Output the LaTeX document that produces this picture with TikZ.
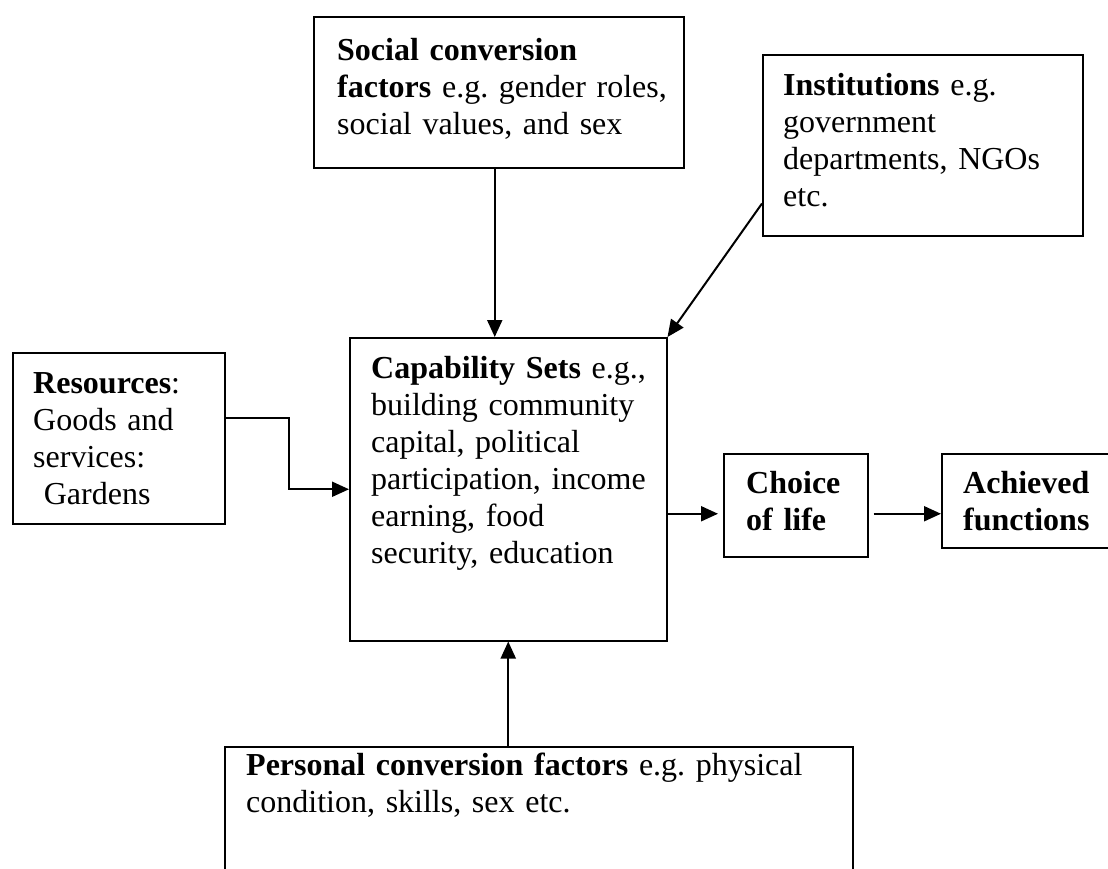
\documentclass[tikz,border=0pt]{standalone}
\usepackage{fontspec}
\setmainfont{Liberation Serif}
\usetikzlibrary{arrows.meta}
\frenchspacing

\begin{document}
\begin{tikzpicture}[x=1pt, y=-1pt,
	factorbox/.style={draw, line width=1.5pt, anchor=north west, inner sep=0pt},
	factortext/.style={anchor=base west, inner sep=0pt, text width=640pt, align=left, font=\fontsize{32}{37}\selectfont},
	link/.style={line width=2pt, -{Triangle[length=17pt, width=15pt]}}]
\useasboundingbox (0,0) rectangle (1108,868);

\node[factorbox, minimum width=370pt, minimum height=151pt] (social) at (313,16) {};
\node[factorbox, minimum width=320pt, minimum height=181pt] (inst) at (762,54) {};
\node[factorbox, minimum width=212pt, minimum height=171pt] (res) at (12,352) {};
\node[factorbox, minimum width=317pt, minimum height=303pt] (cap) at (349,337) {};
\node[factorbox, minimum width=144pt, minimum height=103pt] (choice) at (723,453) {};
\node[factorbox, minimum width=200pt, minimum height=94pt] (achieved) at (941,453) {};
\node[factorbox, minimum width=628pt, minimum height=160pt] (personal) at (224,746) {};

\node[factortext] (socialtxt) at (337,60) {\textbf{Social conversion}\\ \textbf{factors} e.g. gender roles,\\ social values, and sex};
\node[factortext] (insttxt) at (783,95) {\textbf{Institutions} e.g.\\ government\\ departments, NGOs\\ etc.};
\node[factortext] (restxt) at (33,393) {\textbf{Resources}:\\ Goods and\\ services:\\ \ Gardens};
\node[factortext] (captxt) at (371,378) {\textbf{Capability Sets} e.g.,\\ building community\\ capital, political\\ participation, income\\ earning, food\\ security, education};
\node[factortext] (choicetxt) at (746,493) {\textbf{Choice}\\ \textbf{of life}};
\node[factortext] (achievedtxt) at (963,493) {\textbf{Achieved}\\ \textbf{functions}};
\node[factortext] (personaltxt) at (246,775) {\textbf{Personal conversion factors} e.g. physical\\ condition, skills, sex etc.};

\draw[link] ([xshift=-4pt]social.south) -- ([xshift=-4pt]social.south |- cap.north);
\draw[link] ([yshift=33pt]inst.south west) -- (cap.north east);
\draw[link] ([yshift=20pt]res.east) -- ++(63,0) |- (cap.west);
\draw[link, shorten >=5pt] ([yshift=-24.5pt]cap.east) -- ([yshift=-24.5pt]cap.east -| choice.west);
\draw[link, shorten <=5pt] ([yshift=-8.5pt]choice.east) -- ([yshift=-8.5pt]choice.east -| achieved.west);
\draw[link] (cap.south |- personal.north) -- (cap.south);
\end{tikzpicture}
\end{document}
